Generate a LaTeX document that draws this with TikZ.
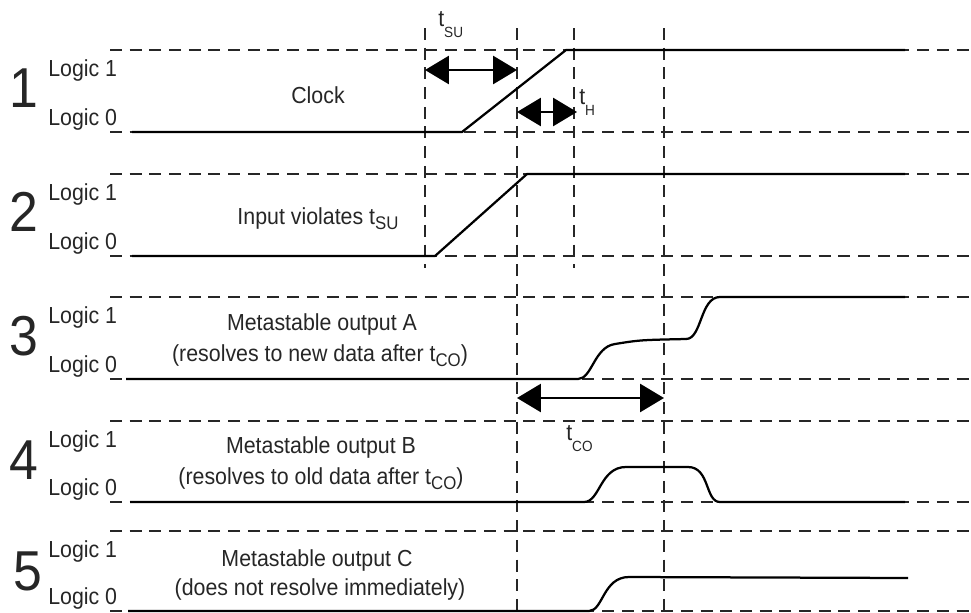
\documentclass[tikz,border=0pt]{standalone}
\usepackage{fontspec}
\setmainfont[FakeStretch=0.92]{Liberation Sans}
\usetikzlibrary{arrows.meta}
\newcommand{\tlab}[1]{t\raisebox{-8.5pt}{\fontsize{10.5}{10.5}\selectfont #1}}
\newcommand{\insub}[1]{\raisebox{-4pt}{\fontsize{13}{13}\selectfont #1}}

\begin{document}
\begin{tikzpicture}[x=0.025cm, y=-0.025cm]
  \tikzstyle{grid} = [line width=1.1pt, dash pattern=on 8.5pt off 5.5pt, black!85]
  \tikzstyle{wave} = [line width=1.6pt, line join=round]
  \tikzstyle{logic} = [anchor=base west, inner sep=0pt, text=black!85, font=\fontsize{16.5}{20}\selectfont]
  \tikzstyle{num} = [anchor=base, inner sep=0pt, text=black!85, font=\fontsize{40}{40}\selectfont]
  \tikzstyle{caption} = [anchor=base, inner sep=0pt, text=black!85, font=\fontsize{16.5}{20}\selectfont]
  \tikzstyle{span} = [line width=1.4pt, {Triangle[length=17pt,width=20pt]}-{Triangle[length=17pt,width=20pt]}]
  \useasboundingbox (0,0) rectangle (971,612);

  % levels
  \foreach \hi/\lo in {50/132, 174/256, 297/379, 421/502, 531/611} {
    \draw [grid] (110,\hi) -- (971,\hi);
    \draw [grid] (110,\lo) -- (971,\lo);
    \node [logic] at (48,\hi+26) {Logic 1};
    \node [logic] at (48,\lo-7) {Logic 0};
  }
  \foreach \n/\x/\y in {1/24/107, 2/24/231, 3/24/355, 4/24/479, 5/28/590}
    \node (num\n) [num] at (\x,\y) {\n};

  % time markers
  \draw [grid] (425,28) -- (425,268);
  \draw [grid] (517,28) -- (517,612);
  \draw [grid] (574,28) -- (574,268);
  \draw [grid] (664,28) -- (664,612);

  % waveforms
  \draw [wave] (132,132) -- (462,132) -- (566,50) -- (905,50);
  \draw [wave] (132,256) -- (435,256) -- (527,174) -- (905,174);
  \draw [wave] (126,379) -- (578,379) .. controls (592,379) and (594,347) .. (615,344)
    .. controls (640,340) .. (686,339) .. controls (702,339) and (700,297) .. (720,297) -- (905,297);
  \draw [wave] (130,502) -- (584,502) .. controls (600,502) and (600,467) .. (626,467) -- (688,467)
    .. controls (710,467) and (705,502) .. (720,502) -- (905,502);
  \draw [wave] (128,611) -- (589,611) .. controls (603,611) and (603,577) .. (629,577) -- (908,578);

  % captions
  \node (clock) [caption] at (318,103) {Clock};
  \node (input) [caption] at (318,224) {Input violates t\insub{SU}};
  \node (outA) [caption] at (322,330) {Metastable output A};
  \node (outAnote) [caption] at (320,361) {(resolves to new data after t\insub{CO})};
  \node (outB) [caption] at (321,453) {Metastable output B};
  \node (outBnote) [caption] at (321,484) {(resolves to old data after t\insub{CO})};
  \node (outC) [caption] at (317,566) {Metastable output C};
  \node (outCnote) [caption] at (320,595) {(does not resolve immediately)};

  % timing spans
  \coordinate (su1) at (425,70);
  \coordinate (su2) at (517,70);
  \coordinate (h1) at (517,112);
  \coordinate (h2) at (577,112);
  \coordinate (co1) at (517,398);
  \coordinate (co2) at (664,398);
  \draw [span] (su1) -- (su2);
  \draw [span] (h1) -- (h2);
  \draw [span] (co1) -- (co2);
  \node (tsu) [logic] at (438,26) {\tlab{SU}};
  \node (th) [logic] at (579,104) {\tlab{H}};
  \node (tco) [logic] at (566,440) {\tlab{CO}};
\end{tikzpicture}
\end{document}
